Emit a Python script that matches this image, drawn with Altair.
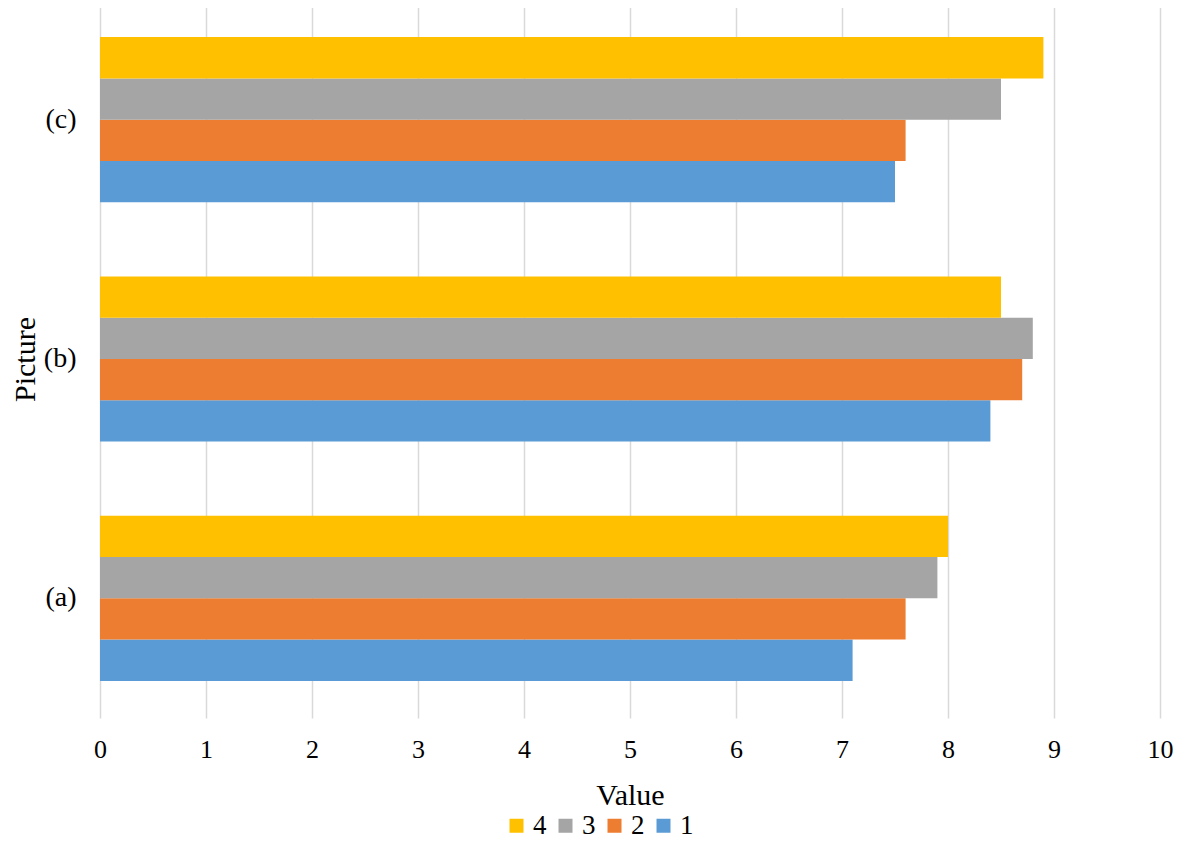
import altair as alt
import pandas as pd

pictures = ["(a)", "(b)", "(c)"]
series = ["1", "2", "3", "4"]
s1 = [7.1, 8.4, 7.5]
s2 = [7.6, 8.7, 7.6]
s3 = [7.9, 8.8, 8.5]
s4 = [8.0, 8.5, 8.9]
colors = ["#5B9BD5", "#ED7D31", "#A5A5A5", "#FFC000"]
ticks = list(range(0, 11))

rows = []
for name, vals in zip(series, [s1, s2, s3, s4]):
    for p, v in zip(pictures, vals):
        rows.append({"Picture": p, "Series": name, "Value": v})
df = pd.DataFrame(rows)

font = "Times New Roman, Liberation Serif, DejaVu Serif, serif"
legend_order = ["4", "3", "2", "1"]
color_map = dict(zip(series, colors))

chart = alt.Chart(df).mark_bar().encode(
    x=alt.X(
        "Value:Q",
        scale=alt.Scale(domain=[0, 10], nice=False, zero=True),
        axis=alt.Axis(
            values=ticks, title="Value", grid=True, ticks=False, domain=False,
            labelFlush=False,
            labelFont=font, labelFontSize=26, labelColor="#000000", labelPadding=18,
            titleFont=font, titleFontSize=30, titleFontWeight="normal", titleColor="#000000",
            titleY=77, titleBaseline="middle", format="d",
        ),
    ),
    y=alt.Y(
        "Picture:N",
        sort=["(c)", "(b)", "(a)"],
        scale=alt.Scale(paddingInner=0.31, paddingOuter=0.155),
        axis=alt.Axis(
            title="Picture", grid=False, ticks=False, domain=False,
            labelFont=font, labelFontSize=28, labelColor="#000000", labelPadding=24,
            titleFont=font, titleFontSize=30, titleFontWeight="normal", titleColor="#000000",
            titleAngle=-90, titleX=-75, titleY=359, titleAlign="center", titleBaseline="middle",
        ),
    ),
    yOffset=alt.YOffset(
        "Series:N",
        sort=legend_order,
        scale=alt.Scale(paddingInner=0, paddingOuter=0),
    ),
    color=alt.Color(
        "Series:N",
        scale=alt.Scale(domain=legend_order, range=[color_map[s] for s in legend_order]),
        legend=alt.Legend(
            title=None, orient="none", legendX=403, legendY=812, direction="horizontal",
            symbolType="square", symbolSize=196, symbolStrokeWidth=0,
            labelFont=font, labelFontSize=27, labelColor="#000000",
            labelOffset=3, columnPadding=5,
        ),
    ),
).properties(
    width=1060,
    height=718,
    autosize="none",
    padding={"left": 92, "top": -8, "right": 13, "bottom": 129},
    background="#FFFFFF",
).configure_view(
    stroke=None
).configure_axis(
    gridColor="#D9D9D9", gridWidth=1.5
)

chart.save("out.html", embed_options={"renderer": "svg", "actions": False})
